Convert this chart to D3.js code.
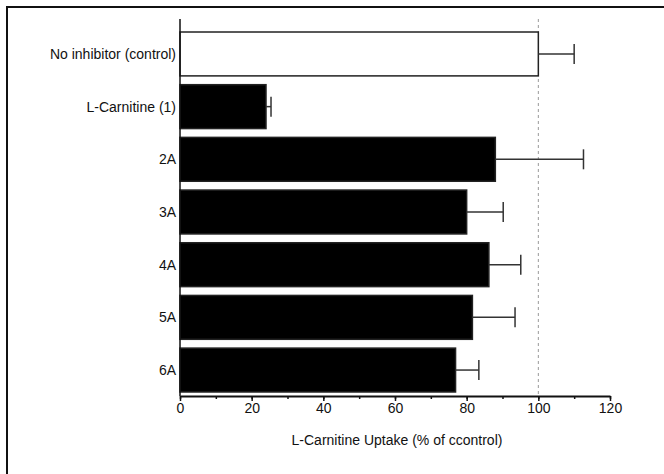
<!DOCTYPE html>
<html lang="en">
<head>
    <meta charset="UTF-8">
    <title>L-Carnitine Uptake</title>
    <script src="https://d3js.org/d3.v7.min.js"></script>
    <style>
        body { margin: 0; background: #fff; }
        text { font-family: "Liberation Sans", Arial, sans-serif; }
    </style>
</head>
<body>
    <svg width="664" height="474"></svg>
    <script>
        // Data
        const categories = ["No inhibitor (control)", "L-Carnitine (1)", "2A", "3A", "4A", "5A", "6A"];
        const uptake = [100, 24, 88, 80, 86.2, 81.6, 76.9];
        const errorTop = [110, 25.4, 112.6, 90.2, 95.1, 93.5, 83.4];
        const xTicks = [0, 20, 40, 60, 80, 100, 120];
        const minorTicks = d3.range(0, 121, 10);

        const data = categories.map((c, i) => ({name: c, value: uptake[i], err: errorTop[i]}));

        const svg = d3.select("svg");

        // Outer frame (top and left edges visible)
        svg.append("path")
            .attr("d", "M7,474 V7 H664")
            .attr("fill", "none")
            .attr("stroke", "#111")
            .attr("stroke-width", 2);

        const x = d3.scaleLinear()
            .domain([0, 120])
            .range([180, 610]);

        const y = d3.scaleBand()
            .domain(categories)
            .range([28, 396])
            .paddingInner(0.167)
            .paddingOuter(0.076);

        const axisY = 396;

        // Reference line at 100 %
        svg.append("line")
            .attr("x1", x(100)).attr("x2", x(100))
            .attr("y1", 19).attr("y2", axisY)
            .attr("stroke", "#999")
            .attr("stroke-width", 1)
            .attr("stroke-dasharray", "3,3");

        // Bars
        svg.selectAll(".bar")
          .data(data)
          .enter().append("rect")
            .attr("class", "bar")
            .attr("x", x(0))
            .attr("y", d => y(d.name))
            .attr("width", d => x(d.value) - x(0))
            .attr("height", y.bandwidth())
            .attr("fill", (d, i) => i === 0 ? "#fff" : "#000")
            .attr("stroke", "#222")
            .attr("stroke-width", 1.5);

        // Error bars
        const err = svg.selectAll(".err")
          .data(data)
          .enter().append("g")
            .attr("class", "err")
            .attr("stroke", "#333")
            .attr("stroke-width", 1.5);

        err.append("line")
            .attr("x1", d => x(d.value))
            .attr("x2", d => x(d.err))
            .attr("y1", d => y(d.name) + y.bandwidth() / 2)
            .attr("y2", d => y(d.name) + y.bandwidth() / 2);

        err.append("line")
            .attr("x1", d => x(d.err))
            .attr("x2", d => x(d.err))
            .attr("y1", d => y(d.name) + y.bandwidth() / 2 - 10)
            .attr("y2", d => y(d.name) + y.bandwidth() / 2 + 10);

        // Y axis line and category labels
        svg.append("line")
            .attr("x1", x(0)).attr("x2", x(0))
            .attr("y1", 19).attr("y2", axisY)
            .attr("stroke", "#111")
            .attr("stroke-width", 1.5);

        svg.selectAll(".cat")
          .data(categories)
          .enter().append("text")
            .attr("class", "cat")
            .attr("x", 176)
            .attr("y", d => y(d) + y.bandwidth() / 2)
            .attr("dy", "0.35em")
            .attr("text-anchor", "end")
            .attr("font-size", 14)
            .attr("fill", "#111")
            .text(d => d);

        // X axis: minor ticks, then major ticks with labels
        const xAxis = svg.append("g")
            .attr("transform", `translate(0,${axisY})`);

        xAxis.append("g")
            .call(d3.axisBottom(x).tickValues(minorTicks).tickSize(3).tickFormat(""))
            .call(g => g.select(".domain").remove())
            .selectAll("line").attr("stroke", "#111").attr("stroke-width", 1.5);

        xAxis.append("g")
            .call(d3.axisBottom(x).tickValues(xTicks).tickSize(5).tickSizeOuter(0).tickPadding(2))
            .call(g => g.select(".domain").attr("stroke", "#111").attr("stroke-width", 2))
            .call(g => g.selectAll("line").attr("stroke", "#111").attr("stroke-width", 1.5))
            .call(g => g.selectAll("text")
                .attr("font-size", 14)
                .attr("fill", "#111")
                .style("font-family", "'Liberation Sans', Arial, sans-serif"));

        // X axis title
        svg.append("text")
            .attr("x", (x(0) + x(120)) / 2 + 2)
            .attr("y", 445)
            .attr("text-anchor", "middle")
            .attr("font-size", 14)
            .attr("fill", "#111")
            .text("L-Carnitine Uptake (% of ccontrol)");
    </script>
</body>
</html>
